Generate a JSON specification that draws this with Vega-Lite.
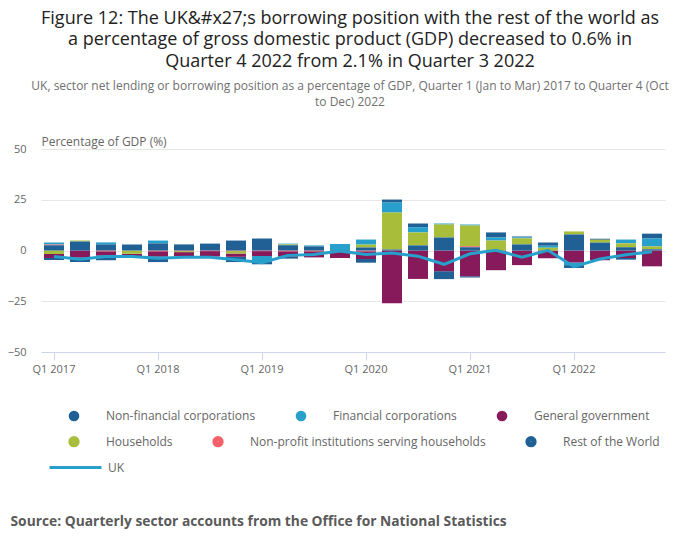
{
  "$schema": "https://vega.github.io/schema/vega-lite/v6.json",
  "width": 624,
  "height": 203,
  "autosize": {"type": "none"},
  "padding": {"left": 41, "top": 149, "right": 35, "bottom": 197},
  "background": "white",
  "title": {
    "text": ["Figure 12: The UK&#x27;s borrowing position with the rest of the world as", "a percentage of gross domestic product (GDP) decreased to 0.6% in", "Quarter 4 2022 from 2.1% in Quarter 3 2022"],
    "subtitle": ["UK, sector net lending or borrowing position as a percentage of GDP, Quarter 1 (Jan to Mar) 2017 to Quarter 4 (Oct", "to Dec) 2022"],
    "anchor": "middle",
    "frame": "group",
    "dx": -3,
    "offset": 28,
    "font": "Open Sans",
    "fontSize": 18,
    "fontWeight": "normal",
    "color": "#222222",
    "lineHeight": 21.5,
    "subtitleFont": "Open Sans",
    "subtitleFontSize": 12,
    "subtitleColor": "#707070",
    "subtitleLineHeight": 16,
    "subtitlePadding": 10
  },
  "datasets": {
    "bars": [
      {"quarter": "Q1 2017", "series": "Non-financial corporations", "value": -1.0},
      {"quarter": "Q1 2017", "series": "Financial corporations", "value": 1.0},
      {"quarter": "Q1 2017", "series": "General government", "value": -2.0},
      {"quarter": "Q1 2017", "series": "Households", "value": -1.7},
      {"quarter": "Q1 2017", "series": "Non-profit institutions serving households", "value": 0.3},
      {"quarter": "Q1 2017", "series": "Rest of the World", "value": 2.6},
      {"quarter": "Q2 2017", "series": "Non-financial corporations", "value": -2.2},
      {"quarter": "Q2 2017", "series": "General government", "value": -3.5},
      {"quarter": "Q2 2017", "series": "Households", "value": 0.5},
      {"quarter": "Q2 2017", "series": "Rest of the World", "value": 4.4},
      {"quarter": "Q3 2017", "series": "Non-financial corporations", "value": -2.4},
      {"quarter": "Q3 2017", "series": "Financial corporations", "value": 1.0},
      {"quarter": "Q3 2017", "series": "General government", "value": -2.0},
      {"quarter": "Q3 2017", "series": "Non-profit institutions serving households", "value": -0.4},
      {"quarter": "Q3 2017", "series": "Rest of the World", "value": 3.0},
      {"quarter": "Q4 2017", "series": "Non-financial corporations", "value": -0.4},
      {"quarter": "Q4 2017", "series": "General government", "value": -1.3},
      {"quarter": "Q4 2017", "series": "Households", "value": -1.6},
      {"quarter": "Q4 2017", "series": "Rest of the World", "value": 3.0},
      {"quarter": "Q1 2018", "series": "Non-financial corporations", "value": -2.8},
      {"quarter": "Q1 2018", "series": "Financial corporations", "value": 1.4},
      {"quarter": "Q1 2018", "series": "General government", "value": -2.5},
      {"quarter": "Q1 2018", "series": "Non-profit institutions serving households", "value": -0.4},
      {"quarter": "Q1 2018", "series": "Rest of the World", "value": 3.5},
      {"quarter": "Q2 2018", "series": "General government", "value": -1.9},
      {"quarter": "Q2 2018", "series": "Households", "value": -0.5},
      {"quarter": "Q2 2018", "series": "Non-profit institutions serving households", "value": -0.3},
      {"quarter": "Q2 2018", "series": "Rest of the World", "value": 3.0},
      {"quarter": "Q3 2018", "series": "General government", "value": -2.7},
      {"quarter": "Q3 2018", "series": "Non-profit institutions serving households", "value": -0.3},
      {"quarter": "Q3 2018", "series": "Rest of the World", "value": 3.4},
      {"quarter": "Q4 2018", "series": "Non-financial corporations", "value": -2.6},
      {"quarter": "Q4 2018", "series": "General government", "value": -1.6},
      {"quarter": "Q4 2018", "series": "Households", "value": -1.2},
      {"quarter": "Q4 2018", "series": "Non-profit institutions serving households", "value": -0.3},
      {"quarter": "Q4 2018", "series": "Rest of the World", "value": 4.9},
      {"quarter": "Q1 2019", "series": "Non-financial corporations", "value": -1.2},
      {"quarter": "Q1 2019", "series": "Financial corporations", "value": -2.9},
      {"quarter": "Q1 2019", "series": "General government", "value": -2.4},
      {"quarter": "Q1 2019", "series": "Non-profit institutions serving households", "value": -0.3},
      {"quarter": "Q1 2019", "series": "Rest of the World", "value": 5.9},
      {"quarter": "Q2 2019", "series": "Non-financial corporations", "value": -1.0},
      {"quarter": "Q2 2019", "series": "Financial corporations", "value": 0.4},
      {"quarter": "Q2 2019", "series": "General government", "value": -2.6},
      {"quarter": "Q2 2019", "series": "Households", "value": 0.4},
      {"quarter": "Q2 2019", "series": "Non-profit institutions serving households", "value": -0.4},
      {"quarter": "Q2 2019", "series": "Rest of the World", "value": 2.6},
      {"quarter": "Q3 2019", "series": "Financial corporations", "value": 0.5},
      {"quarter": "Q3 2019", "series": "General government", "value": -3.0},
      {"quarter": "Q3 2019", "series": "Non-profit institutions serving households", "value": -0.4},
      {"quarter": "Q3 2019", "series": "Rest of the World", "value": 2.0},
      {"quarter": "Q4 2019", "series": "Financial corporations", "value": 3.0},
      {"quarter": "Q4 2019", "series": "General government", "value": -3.7},
      {"quarter": "Q4 2019", "series": "Rest of the World", "value": 0.2},
      {"quarter": "Q1 2020", "series": "Non-financial corporations", "value": -1.8},
      {"quarter": "Q1 2020", "series": "Financial corporations", "value": 2.5},
      {"quarter": "Q1 2020", "series": "General government", "value": -3.8},
      {"quarter": "Q1 2020", "series": "Households", "value": 1.4},
      {"quarter": "Q1 2020", "series": "Non-profit institutions serving households", "value": -0.4},
      {"quarter": "Q1 2020", "series": "Rest of the World", "value": 1.5},
      {"quarter": "Q2 2020", "series": "Non-financial corporations", "value": 1.5},
      {"quarter": "Q2 2020", "series": "Financial corporations", "value": 4.9},
      {"quarter": "Q2 2020", "series": "General government", "value": -26.0},
      {"quarter": "Q2 2020", "series": "Households", "value": 18.2},
      {"quarter": "Q2 2020", "series": "Rest of the World", "value": 0.5},
      {"quarter": "Q3 2020", "series": "Non-financial corporations", "value": 1.8},
      {"quarter": "Q3 2020", "series": "Financial corporations", "value": 2.6},
      {"quarter": "Q3 2020", "series": "General government", "value": -14.0},
      {"quarter": "Q3 2020", "series": "Households", "value": 6.4},
      {"quarter": "Q3 2020", "series": "Rest of the World", "value": 2.5},
      {"quarter": "Q4 2020", "series": "Non-financial corporations", "value": -3.9},
      {"quarter": "Q4 2020", "series": "Financial corporations", "value": 0.5},
      {"quarter": "Q4 2020", "series": "General government", "value": -10.2},
      {"quarter": "Q4 2020", "series": "Households", "value": 6.4},
      {"quarter": "Q4 2020", "series": "Rest of the World", "value": 6.4},
      {"quarter": "Q1 2021", "series": "Non-financial corporations", "value": -0.6},
      {"quarter": "Q1 2021", "series": "Financial corporations", "value": 0.5},
      {"quarter": "Q1 2021", "series": "General government", "value": -12.7},
      {"quarter": "Q1 2021", "series": "Households", "value": 10.2},
      {"quarter": "Q1 2021", "series": "Non-profit institutions serving households", "value": 0.5},
      {"quarter": "Q1 2021", "series": "Rest of the World", "value": 1.6},
      {"quarter": "Q2 2021", "series": "Non-financial corporations", "value": 2.5},
      {"quarter": "Q2 2021", "series": "Financial corporations", "value": 1.5},
      {"quarter": "Q2 2021", "series": "General government", "value": -9.7},
      {"quarter": "Q2 2021", "series": "Households", "value": 4.9},
      {"quarter": "Q3 2021", "series": "Non-financial corporations", "value": 0.5},
      {"quarter": "Q3 2021", "series": "Financial corporations", "value": 0.4},
      {"quarter": "Q3 2021", "series": "General government", "value": -7.2},
      {"quarter": "Q3 2021", "series": "Households", "value": 3.0},
      {"quarter": "Q3 2021", "series": "Rest of the World", "value": 3.0},
      {"quarter": "Q4 2021", "series": "Non-financial corporations", "value": 1.5},
      {"quarter": "Q4 2021", "series": "Financial corporations", "value": 1.0},
      {"quarter": "Q4 2021", "series": "General government", "value": -3.8},
      {"quarter": "Q4 2021", "series": "Households", "value": 1.4},
      {"quarter": "Q1 2022", "series": "Non-financial corporations", "value": -1.4},
      {"quarter": "Q1 2022", "series": "Financial corporations", "value": -1.3},
      {"quarter": "Q1 2022", "series": "General government", "value": -5.9},
      {"quarter": "Q1 2022", "series": "Households", "value": 1.5},
      {"quarter": "Q1 2022", "series": "Rest of the World", "value": 7.9},
      {"quarter": "Q2 2022", "series": "Non-financial corporations", "value": 0.5},
      {"quarter": "Q2 2022", "series": "General government", "value": -4.8},
      {"quarter": "Q2 2022", "series": "Households", "value": 1.4},
      {"quarter": "Q2 2022", "series": "Rest of the World", "value": 3.9},
      {"quarter": "Q3 2022", "series": "Non-financial corporations", "value": -0.8},
      {"quarter": "Q3 2022", "series": "Financial corporations", "value": 1.9},
      {"quarter": "Q3 2022", "series": "General government", "value": -3.7},
      {"quarter": "Q3 2022", "series": "Households", "value": 1.9},
      {"quarter": "Q3 2022", "series": "Rest of the World", "value": 1.6},
      {"quarter": "Q4 2022", "series": "Non-financial corporations", "value": 2.4},
      {"quarter": "Q4 2022", "series": "Financial corporations", "value": 3.9},
      {"quarter": "Q4 2022", "series": "General government", "value": -7.8},
      {"quarter": "Q4 2022", "series": "Households", "value": 1.4},
      {"quarter": "Q4 2022", "series": "Rest of the World", "value": 0.6}
    ],
    "uk": [
      {"quarter": "Q1 2017", "series": "UK", "value": -3.0},
      {"quarter": "Q2 2017", "series": "UK", "value": -4.3},
      {"quarter": "Q3 2017", "series": "UK", "value": -3.0},
      {"quarter": "Q4 2017", "series": "UK", "value": -3.0},
      {"quarter": "Q1 2018", "series": "UK", "value": -3.8},
      {"quarter": "Q2 2018", "series": "UK", "value": -3.3},
      {"quarter": "Q3 2018", "series": "UK", "value": -3.3},
      {"quarter": "Q4 2018", "series": "UK", "value": -4.6},
      {"quarter": "Q1 2019", "series": "UK", "value": -6.0},
      {"quarter": "Q2 2019", "series": "UK", "value": -2.4},
      {"quarter": "Q3 2019", "series": "UK", "value": -2.0},
      {"quarter": "Q4 2019", "series": "UK", "value": -0.2},
      {"quarter": "Q1 2020", "series": "UK", "value": -2.0},
      {"quarter": "Q2 2020", "series": "UK", "value": -1.2},
      {"quarter": "Q3 2020", "series": "UK", "value": -2.8},
      {"quarter": "Q4 2020", "series": "UK", "value": -6.8},
      {"quarter": "Q1 2021", "series": "UK", "value": -1.6},
      {"quarter": "Q2 2021", "series": "UK", "value": 0.1},
      {"quarter": "Q3 2021", "series": "UK", "value": -3.3},
      {"quarter": "Q4 2021", "series": "UK", "value": 0.1},
      {"quarter": "Q1 2022", "series": "UK", "value": -8.0},
      {"quarter": "Q2 2022", "series": "UK", "value": -4.2},
      {"quarter": "Q3 2022", "series": "UK", "value": -2.1},
      {"quarter": "Q4 2022", "series": "UK", "value": -0.6}
    ]
  },
  "encoding": {
    "x": {
      "field": "quarter",
      "type": "nominal",
      "scale": {
        "domain": ["Q1 2017","Q2 2017","Q3 2017","Q4 2017","Q1 2018","Q2 2018","Q3 2018","Q4 2018","Q1 2019","Q2 2019","Q3 2019","Q4 2019","Q1 2020","Q2 2020","Q3 2020","Q4 2020","Q1 2021","Q2 2021","Q3 2021","Q4 2021","Q1 2022","Q2 2022","Q3 2022","Q4 2022"],
        "paddingInner": 0.23,
        "paddingOuter": 0.115
      },
      "axis": {
        "values": ["Q1 2017","Q1 2018","Q1 2019","Q1 2020","Q1 2021","Q1 2022"],
        "labelAngle": 0,
        "labelFont": "Open Sans",
        "labelFontSize": 11,
        "labelColor": "#666666",
        "labelPadding": 3,
        "domainColor": "#ccd6eb",
        "tickColor": "#ccd6eb",
        "tickSize": 8,
        "grid": false,
        "title": "Source: Quarterly sector accounts from the Office for National Statistics",
        "titleFont": "Open Sans",
        "titleFontSize": 13.8,
        "titleFontWeight": "bold",
        "titleColor": "#5a5a5a",
        "titleAlign": "left",
        "titleBaseline": "middle",
        "titleX": -31,
        "titleY": 169.5
      }
    },
    "y": {
      "field": "value",
      "type": "quantitative",
      "scale": {"domain": [-50, 50], "nice": false, "zero": false},
      "axis": {
        "values": [-50, -25, 0, 25, 50],
        "grid": true,
        "gridColor": "#e6e6e6",
        "domain": false,
        "ticks": false,
        "labelFont": "Open Sans",
        "labelFontSize": 11,
        "labelColor": "#666666",
        "labelPadding": 15,
        "title": "Percentage of GDP (%)",
        "titleFont": "Open Sans",
        "titleFontSize": 12,
        "titleFontWeight": "normal",
        "titleColor": "#666666",
        "titleAngle": 0,
        "titleAlign": "left",
        "titleBaseline": "alphabetic",
        "titleX": 0,
        "titleY": -3.5
      }
    }
  },
  "layer": [
    {
      "data": {"name": "bars"},
      "transform": [
        {"calculate": "indexof(['Rest of the World','Non-profit institutions serving households','Households','General government','Financial corporations','Non-financial corporations'], datum.series)", "as": "stackorder"}
      ],
      "mark": {"type": "bar", "strokeWidth": 0},
      "encoding": {
        "y": {"field": "value", "type": "quantitative", "stack": "zero"},
        "color": {
          "field": "series",
          "type": "nominal",
          "scale": {
            "domain": ["Non-financial corporations", "Financial corporations", "General government", "Households", "Non-profit institutions serving households", "Rest of the World"],
            "range": ["#206095", "#27a0cc", "#871a5b", "#a8bd3a", "#f66068", "#206095"]
          },
          "legend": {
            "orient": "none",
            "legendX": 27,
            "legendY": 261,
            "title": null,
            "direction": "horizontal",
            "values": ["Non-financial corporations", "Financial corporations", "General government"],
            "columnPadding": 39,
            "padding": 0,
            "symbolType": "circle",
            "symbolSize": 113,
            "symbolStrokeWidth": 0,
            "labelOffset": 26,
            "labelFont": "Open Sans",
            "labelFontSize": 12,
            "labelColor": "#666666",
            "labelLimit": 400
          }
        },
        "stroke": {
          "field": "series",
          "type": "nominal",
          "scale": {
            "domain": ["Households", "Non-profit institutions serving households", "Rest of the World"],
            "range": ["#a8bd3a", "#f66068", "#206095"]
          },
          "legend": {
            "orient": "none",
            "legendX": 27,
            "legendY": 286.5,
            "title": null,
            "direction": "horizontal",
            "columnPadding": 30,
            "padding": 0,
            "symbolType": "circle",
            "symbolSize": 28,
            "symbolStrokeWidth": 6,
            "symbolFillColor": "transparent",
            "labelOffset": 26,
            "labelFont": "Open Sans",
            "labelFontSize": 12,
            "labelColor": "#666666",
            "labelLimit": 400
          }
        },
        "order": {"field": "stackorder", "type": "quantitative", "sort": "ascending"}
      }
    },
    {
      "data": {"name": "uk"},
      "mark": {"type": "line", "strokeWidth": 3, "interpolate": "linear", "color": "#27a0cc"},
      "encoding": {
        "opacity": {
          "field": "series",
          "type": "nominal",
          "scale": {"domain": ["UK"], "range": [1]},
          "legend": {
            "orient": "none",
            "legendX": 7,
            "legendY": 291,
            "title": null,
            "padding": 0,
            "symbolType": "stroke",
            "symbolSize": 2704,
            "symbolStrokeWidth": 3,
            "symbolStrokeColor": "#27a0cc",
            "labelOffset": 5,
            "labelFont": "Open Sans",
            "labelFontSize": 12,
            "labelColor": "#666666"
          }
        }
      }
    }
  ],
  "config": {
    "view": {"stroke": null},
    "font": "Open Sans"
  }
}
